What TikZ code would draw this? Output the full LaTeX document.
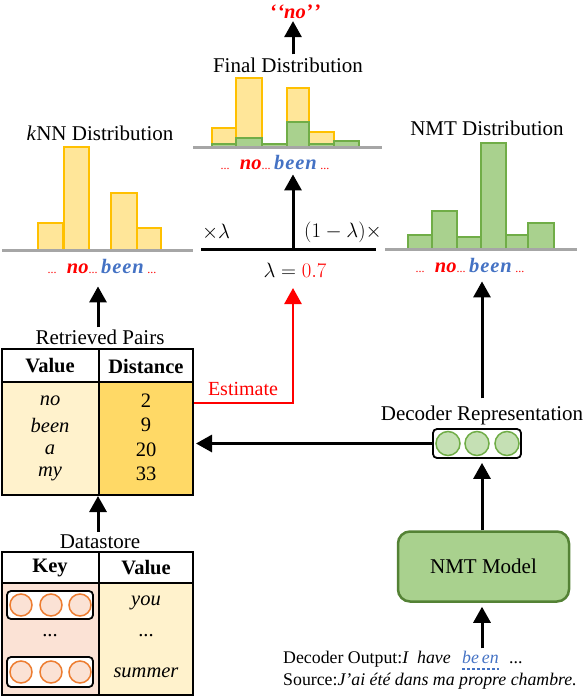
\documentclass[tikz,border=0pt]{standalone}
\usepackage{fontspec}
\setmainfont{Liberation Serif}
\usetikzlibrary{arrows.meta}
\definecolor{yfill}{HTML}{FFE699}
\definecolor{ystroke}{HTML}{FFC000}
\definecolor{gfill}{HTML}{A9D18E}
\definecolor{gstroke}{HTML}{70AD47}
\definecolor{gcirc}{HTML}{C5E0B4}
\definecolor{nmtstroke}{HTML}{548235}
\definecolor{baseg}{HTML}{A6A6A6}
\definecolor{tokblue}{HTML}{4472C4}
\definecolor{lightyel}{HTML}{FFF2CC}
\definecolor{darkyel}{HTML}{FFD966}
\definecolor{peach}{HTML}{FBE2D5}
\definecolor{orangec}{HTML}{ED7D31}
\newcommand{\smalldots}{{\color{red}\fontsize{12}{13}\selectfont...}}
\newcommand{\tokrow}{\smalldots\ \ {\color{red}\textbf{\textit{no}}}\smalldots\,{\color{tokblue}\textbf{\textit{b\kern1pt e\kern1pt e\kern1pt n}}}\,\smalldots}
\begin{document}
\begin{tikzpicture}[x=1pt,y=-1pt,
  lab/.style={font=\fontsize{21}{24}\selectfont, inner sep=0pt},
  cell/.style={font=\fontsize{20.5}{23}\selectfont, inner sep=0pt},
  tok/.style={font=\fontsize{20.5}{23}\selectfont, inner sep=0pt},
  arr/.style={line width=3pt, -{Triangle[width=17pt,length=16pt]}},
  rarr/.style={red, line width=2.5pt, -{Triangle[width=17pt,length=16pt]}},
  gline/.style={draw=baseg, line width=3pt},
  ybar/.style={draw=ystroke, fill=yfill, line width=2.5pt},
  gbar/.style={draw=gstroke, fill=gfill, line width=2.5pt},
  tabline/.style={line width=2.7pt},
  keycirc/.style={circle, draw=orangec, fill=peach, line width=1.5pt, minimum size=22pt, inner sep=0pt},
  deccirc/.style={circle, draw=gstroke, fill=gcirc, line width=1.5pt, minimum size=24pt, inner sep=0pt},
  vec/.style={draw, fill=white, rounded corners=4pt, line width=1.8pt, inner sep=0pt}
]
\useasboundingbox (0,0) rectangle (584,698);

% ---------------- kNN distribution ----------------
\node[lab] (knnlab) at (100,133) {\textit{k}NN Distribution};
\draw[ybar] (38,250) rectangle (63,223);
\draw[ybar] (64,250) rectangle (89,147);
\draw[ybar] (111,250) rectangle (137,193);
\draw[ybar] (137,250) rectangle (161,228);
\draw[gline] (2,250) -- (193,250);
\node[tok] (knntok) at (102,267) {\tokrow};

% ---------------- NMT distribution ----------------
\node[lab] (nmtlab) at (487,128) {NMT Distribution};
\draw[gbar] (408,249) rectangle (432,235);
\draw[gbar] (432,249) rectangle (457,211);
\draw[gbar] (457,249) rectangle (481,237);
\draw[gbar] (481,249) rectangle (506,143);
\draw[gbar] (506,249) rectangle (528,235);
\draw[gbar] (528,249) rectangle (554,223);
\draw[gline] (385,249) -- (577,249);
\node[tok] (nmttok) at (470,266) {\tokrow};

% ---------------- Final distribution ----------------
\node[lab] (finlab) at (288,65) {Final Distribution};
\node[tok] (quote) at (295,12) {\color{red}\textbf{\textit{`\kern1pt`no'\kern1pt'}}};
\draw[ybar] (212,144) rectangle (236,128);
\draw[ybar] (236,138) rectangle (262,78);
\draw[ybar] (287,122) rectangle (309,88);
\draw[ybar] (309,144) rectangle (334,132);
\draw[gbar] (212,147) rectangle (236,144);
\draw[gbar] (236,147) rectangle (262,138);
\draw[gbar] (262,147) rectangle (287,144);
\draw[gbar] (287,147) rectangle (309,122);
\draw[gbar] (309,147) rectangle (334,144);
\draw[gbar] (334,147) rectangle (359,141);
\draw[gline] (193,147) -- (382,147);
\node[tok] (fintok) at (275,163) {\tokrow};
\draw[arr, shorten <=3pt, shorten >=2pt] (finlab.north -| 293,0) -- (quote.south -| 293,0);

% ---------------- interpolation ----------------
\coordinate (mixL) at (201,249);
\coordinate (mixR) at (376,249);
\coordinate (mixC) at (293,249);
\draw[line width=3pt] (mixL) -- (mixR);
\node[lab] (lamL) at (216,232) {$\times\lambda$};
\node[lab] (lamR) at (343,232) {$(1-\lambda)\times$};
\node[lab, font=\fontsize{22}{26}\selectfont] (lam) at (295,270) {$\lambda = {\color{red}0.7}$};
\draw[arr, shorten >=4pt] (mixC) -- (mixC |- fintok.south);

% ---------------- Retrieved pairs table ----------------
\node[lab] (rplab) at (100,337) {Retrieved Pairs};
\fill[white] (2,349) rectangle (193,382);
\fill[lightyel] (2,382) rectangle (99,495);
\fill[darkyel] (99,382) rectangle (193,495);
\draw[tabline] (2,349) rectangle (193,495);
\draw[tabline] (2,382) -- (193,382);
\draw[tabline] (99,349) -- (99,495);
\node[cell] (hval) at (50,366) {\textbf{Value}};
\node[cell] (hdist) at (146,366) {\textbf{Distance}};
\node[cell] (v1) at (50,401) {\textit{no}};
\node[cell] (v2) at (50,425) {\textit{been}};
\node[cell] (v3) at (50,450) {\textit{a}};
\node[cell] (v4) at (50,474) {\textit{my}};
\node[cell] (d1) at (146,401) {2};
\node[cell] (d2) at (146,425) {9};
\node[cell] (d3) at (146,450) {20};
\node[cell] (d4) at (146,474) {33};
\coordinate (rpE) at (194,403);
\coordinate (rpIn) at (196,444);
\coordinate (rpBot) at (98,496);
\coordinate (redtip) at (293,288);
\draw[arr, shorten <=2pt, shorten >=12pt] (rplab.north -| 98,0) -- (knntok.south -| 98,0);

% Estimate
\draw[rarr] (rpE) -| (redtip);
\node[lab, font=\fontsize{20}{23}\selectfont, text=red] (est) at (243,389) {Estimate};

% ---------------- Datastore table ----------------
\node[lab] (dslab) at (100,542) {Datastore};
\fill[white] (2,552) rectangle (193,583);
\fill[peach] (2,583) rectangle (99,695);
\fill[lightyel] (99,583) rectangle (193,695);
\draw[tabline] (2,552) rectangle (193,695);
\draw[tabline] (2,583) -- (193,583);
\draw[tabline] (99,552) -- (99,695);
\node[cell] (hkey) at (50,568) {\textbf{Key}};
\node[cell] (hval2) at (146,568) {\textbf{Value}};
\node[vec, minimum width=86pt, minimum height=28pt] (k1) at (50,605) {};
\node[keycirc] at (21,605) {};
\node[keycirc] at (51,605) {};
\node[keycirc] at (80,605) {};
\node[cell] (kdots) at (50,636) {...};
\node[vec, minimum width=86pt, minimum height=30pt] (k2) at (50,672) {};
\node[keycirc] at (21,672) {};
\node[keycirc] at (51,672) {};
\node[keycirc] at (80,672) {};
\node[cell] (dv1) at (146,603) {\textit{you}};
\node[cell] (dv2) at (146,636) {...};
\node[cell] (dv3) at (146,673) {\textit{summer}};
\draw[arr, shorten <=3pt] (dslab.north -| rpBot) -- (rpBot);

% ---------------- Decoder side ----------------
\node[lab] (declab) at (482,415) {Decoder Representation};
\node[vec, minimum width=88pt, minimum height=29pt] (dec) at (477,443.5) {};
\node[deccirc] at (448,443.5) {};
\node[deccirc] at (477,443.5) {};
\node[deccirc] at (507,443.5) {};
\draw[arr] (dec.west) -- (dec.west -| rpIn);
\draw[arr, shorten <=7pt, shorten >=8pt] (declab.north -| 482,0) -- (nmttok.south -| 482,0);

\node[draw=nmtstroke, fill=gfill, rounded corners=12pt, line width=2.5pt,
      minimum width=171pt, minimum height=70pt, font=\fontsize{21}{24}\selectfont] (nmt) at (483.5,566.5) {NMT Model};
\draw[arr, shorten >=4pt] (nmt.north -| 482,0) -- (dec.south -| 482,0);

\node[anchor=base west, inner sep=0pt, font=\fontsize{17.8}{20}\selectfont] (dout) at (283,663) {Decoder Output:\textit{I\ \ have}};
\node[anchor=base west, inner sep=0pt, font=\fontsize{17.8}{20}\selectfont, text=tokblue] (been) at (462,663) {\textit{be\,en}};
\node[anchor=base west, inner sep=0pt, font=\fontsize{17.8}{20}\selectfont] (odots) at (509,663) {...};
\draw[tokblue, dashed, dash pattern=on 3pt off 2pt, line width=1.2pt] ([yshift=-6pt]been.base west) -- ([yshift=-6pt]been.base east);
\node[anchor=base west, inner sep=0pt, font=\fontsize{17.8}{20}\selectfont] (src) at (283,685) {Source:\textit{J'ai été dans ma propre chambre.}};
\draw[arr, shorten <=2pt, shorten >=4pt] (been.north -| 482,0) -- (nmt.south -| 482,0);
\end{tikzpicture}
\end{document}
